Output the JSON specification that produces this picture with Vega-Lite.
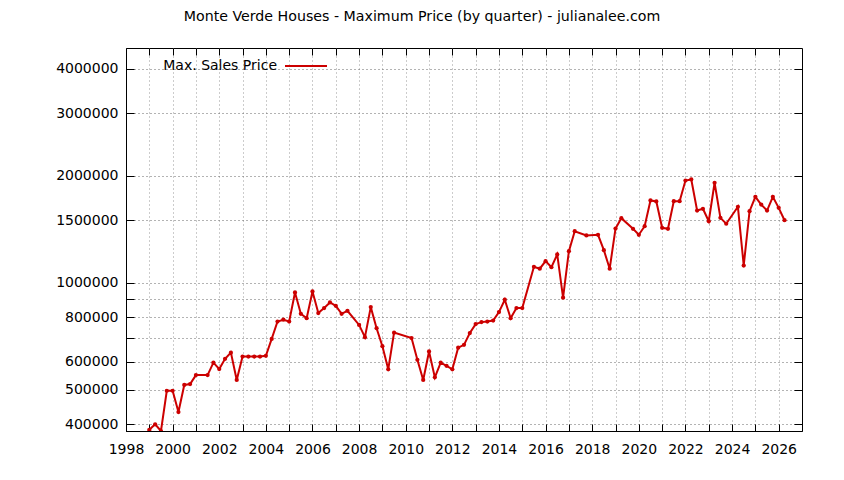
{
  "$schema": "https://vega.github.io/schema/vega-lite/v6.json",
  "width": 676,
  "height": 383,
  "autosize": {"type": "none"},
  "padding": {"left": 126, "top": 48, "right": 42, "bottom": 49},
  "background": "white",
  "title": {
    "text": "Monte Verde Houses - Maximum Price (by quarter) - julianalee.com",
    "anchor": "middle",
    "dx": -42,
    "offset": 20,
    "font": "DejaVu Sans",
    "fontSize": 14.2,
    "fontWeight": "normal",
    "color": "black"
  },
  "config": {
    "view": {"stroke": "black", "strokeWidth": 1},
    "font": "DejaVu Sans",
    "axis": {
      "labelFont": "DejaVu Sans",
      "labelFontSize": 14,
      "labelColor": "black",
      "tickColor": "black",
      "domainColor": "black",
      "labelFlush": false,
      "labelOverlap": false
    }
  },
  "data": {
    "values": [
      {"t": 1999.0, "price": 386000},
      {"t": 1999.25, "price": 400000},
      {"t": 1999.5, "price": 383000},
      {"t": 1999.75, "price": 497000},
      {"t": 2000.0, "price": 497000},
      {"t": 2000.25, "price": 433000},
      {"t": 2000.5, "price": 516000},
      {"t": 2000.75, "price": 519000},
      {"t": 2001.0, "price": 550000},
      {"t": 2001.5, "price": 550000},
      {"t": 2001.75, "price": 596000},
      {"t": 2002.0, "price": 572000},
      {"t": 2002.25, "price": 611000},
      {"t": 2002.5, "price": 636000},
      {"t": 2002.75, "price": 533000},
      {"t": 2003.0, "price": 620000},
      {"t": 2003.25, "price": 620000},
      {"t": 2003.5, "price": 620000},
      {"t": 2003.75, "price": 620000},
      {"t": 2004.0, "price": 623000},
      {"t": 2004.25, "price": 695000},
      {"t": 2004.5, "price": 778000},
      {"t": 2004.75, "price": 787000},
      {"t": 2005.0, "price": 778000},
      {"t": 2005.25, "price": 939000},
      {"t": 2005.5, "price": 818000},
      {"t": 2005.75, "price": 795000},
      {"t": 2006.0, "price": 945000},
      {"t": 2006.25, "price": 822000},
      {"t": 2006.5, "price": 849000},
      {"t": 2006.75, "price": 880000},
      {"t": 2007.0, "price": 861000},
      {"t": 2007.25, "price": 818000},
      {"t": 2007.5, "price": 834000},
      {"t": 2008.0, "price": 761000},
      {"t": 2008.25, "price": 703000},
      {"t": 2008.5, "price": 854000},
      {"t": 2008.75, "price": 745000},
      {"t": 2009.0, "price": 663000},
      {"t": 2009.25, "price": 571000},
      {"t": 2009.5, "price": 724000},
      {"t": 2010.25, "price": 699000},
      {"t": 2010.5, "price": 607000},
      {"t": 2010.75, "price": 533000},
      {"t": 2011.0, "price": 641000},
      {"t": 2011.25, "price": 542000},
      {"t": 2011.5, "price": 596000},
      {"t": 2011.75, "price": 584000},
      {"t": 2012.0, "price": 571000},
      {"t": 2012.25, "price": 657000},
      {"t": 2012.5, "price": 669000},
      {"t": 2012.75, "price": 722000},
      {"t": 2013.0, "price": 765000},
      {"t": 2013.25, "price": 775000},
      {"t": 2013.5, "price": 778000},
      {"t": 2013.75, "price": 783000},
      {"t": 2014.0, "price": 827000},
      {"t": 2014.25, "price": 896000},
      {"t": 2014.5, "price": 795000},
      {"t": 2014.75, "price": 849000},
      {"t": 2015.0, "price": 849000},
      {"t": 2015.5, "price": 1109000},
      {"t": 2015.75, "price": 1095000},
      {"t": 2016.0, "price": 1150000},
      {"t": 2016.25, "price": 1106000},
      {"t": 2016.5, "price": 1201000},
      {"t": 2016.75, "price": 908000},
      {"t": 2017.0, "price": 1227000},
      {"t": 2017.25, "price": 1396000},
      {"t": 2017.75, "price": 1358000},
      {"t": 2018.25, "price": 1364000},
      {"t": 2018.5, "price": 1235000},
      {"t": 2018.75, "price": 1095000},
      {"t": 2019.0, "price": 1420000},
      {"t": 2019.25, "price": 1519000},
      {"t": 2019.75, "price": 1418000},
      {"t": 2020.0, "price": 1364000},
      {"t": 2020.25, "price": 1442000},
      {"t": 2020.5, "price": 1703000},
      {"t": 2020.75, "price": 1692000},
      {"t": 2021.0, "price": 1427000},
      {"t": 2021.25, "price": 1418000},
      {"t": 2021.5, "price": 1695000},
      {"t": 2021.75, "price": 1695000},
      {"t": 2022.0, "price": 1938000},
      {"t": 2022.25, "price": 1951000},
      {"t": 2022.5, "price": 1596000},
      {"t": 2022.75, "price": 1614000},
      {"t": 2023.0, "price": 1489000},
      {"t": 2023.25, "price": 1910000},
      {"t": 2023.5, "price": 1522000},
      {"t": 2023.75, "price": 1465000},
      {"t": 2024.25, "price": 1635000},
      {"t": 2024.5, "price": 1118000},
      {"t": 2024.75, "price": 1589000},
      {"t": 2025.0, "price": 1744000},
      {"t": 2025.25, "price": 1659000},
      {"t": 2025.5, "price": 1596000},
      {"t": 2025.75, "price": 1744000},
      {"t": 2026.0, "price": 1624000},
      {"t": 2026.25, "price": 1499000}
    ]
  },
  "layer": [
    {
      "mark": {
        "type": "line",
        "strokeWidth": 2,
        "clip": true,
        "point": {"filled": true, "size": 18, "clip": true}
      },
      "encoding": {
        "x": {
          "field": "t",
          "type": "quantitative",
          "scale": {"domain": [1998, 2027], "nice": false, "zero": false},
          "axis": {
            "title": null,
            "values": [1998, 1999, 2000, 2001, 2002, 2003, 2004, 2005, 2006, 2007, 2008, 2009, 2010, 2011, 2012, 2013, 2014, 2015, 2016, 2017, 2018, 2019, 2020, 2021, 2022, 2023, 2024, 2025, 2026],
            "format": "d",
            "labelExpr": "datum.value % 2 == 0 ? datum.label : ''",
            "tickSize": -7,
            "labelPadding": 18,
            "grid": true,
            "gridDash": [1, 3],
            "gridColor": "#999999"
          }
        },
        "y": {
          "field": "price",
          "type": "quantitative",
          "scale": {"type": "log", "domain": [383000, 4570000], "nice": false},
          "axis": {
            "title": null,
            "values": [400000, 500000, 600000, 700000, 800000, 900000, 1000000, 1500000, 2000000, 3000000, 4000000],
            "format": "d",
            "labelExpr": "datum.value == 700000 || datum.value == 900000 ? '' : datum.label",
            "tickSize": -8,
            "labelPadding": 16,
            "grid": true,
            "gridDash": [1, 3],
            "gridColor": "#666666"
          }
        },
        "color": {
          "datum": "Max. Sales Price",
          "scale": {"range": ["#cc0000"]},
          "legend": {
            "title": null,
            "orient": "none",
            "legendX": 158,
            "legendY": -4,
            "padding": 0,
            "symbolType": "stroke",
            "symbolSize": 1764,
            "symbolStrokeWidth": 2,
            "labelAlign": "right",
            "labelOffset": -51,
            "labelFont": "DejaVu Sans",
            "labelFontSize": 14,
            "labelColor": "black",
            "labelLimit": 300
          }
        }
      }
    },
    {
      "mark": {"type": "point", "opacity": 0},
      "encoding": {
        "x": {
          "field": "t",
          "type": "quantitative",
          "axis": {
            "orient": "top",
            "title": null,
            "values": [1998, 1999, 2000, 2001, 2002, 2003, 2004, 2005, 2006, 2007, 2008, 2009, 2010, 2011, 2012, 2013, 2014, 2015, 2016, 2017, 2018, 2019, 2020, 2021, 2022, 2023, 2024, 2025, 2026],
            "labels": false,
            "domain": false,
            "grid": false,
            "tickSize": -7
          }
        },
        "y": {
          "field": "price",
          "type": "quantitative",
          "axis": {
            "orient": "right",
            "title": null,
            "values": [400000, 500000, 600000, 700000, 800000, 900000, 1000000, 1500000, 2000000, 3000000, 4000000],
            "labels": false,
            "domain": false,
            "grid": false,
            "tickSize": -8
          }
        }
      }
    }
  ],
  "resolve": {"axis": {"x": "independent", "y": "independent"}}
}
